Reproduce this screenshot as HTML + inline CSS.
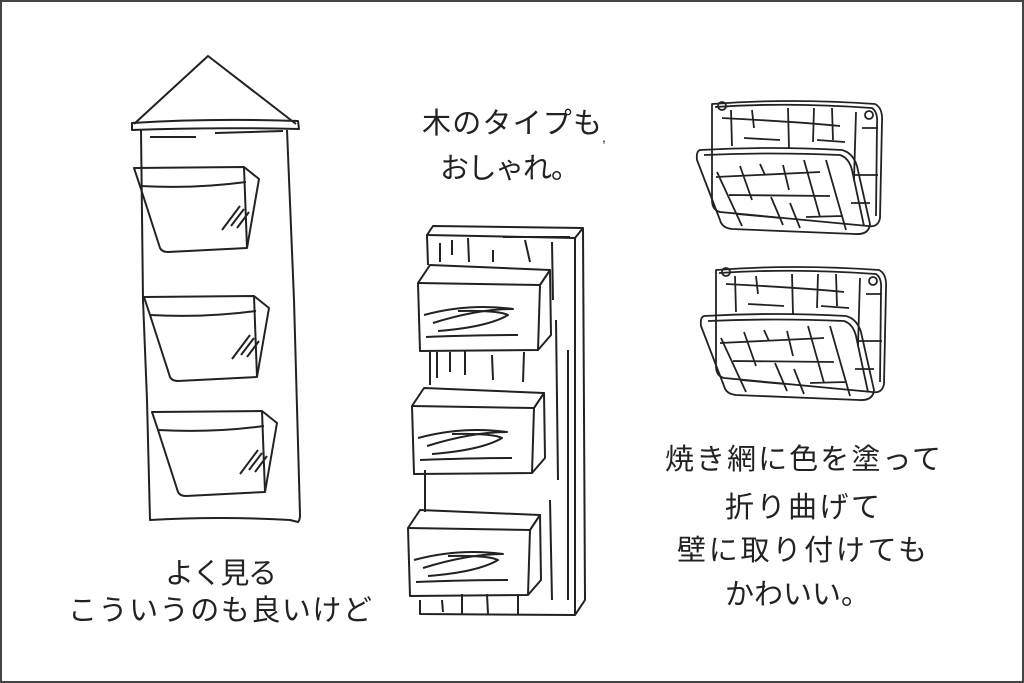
<!DOCTYPE html>
<html><head><meta charset="utf-8"><style>
html,body{margin:0;padding:0;background:#fff}
svg{display:block}
text{font-family:"Liberation Sans","Noto Sans CJK JP",sans-serif;font-size:29px;fill:#222;font-weight:400}
</style></head><body>
<svg width="1024" height="683" viewBox="0 0 1024 683" xmlns="http://www.w3.org/2000/svg">
<rect x="1" y="1" width="1022" height="681" fill="#fff" stroke="#444" stroke-width="2"/>
<defs>
<g id="pocket" fill="none" stroke="#222" stroke-width="2" stroke-linejoin="round">
<path d="M0,0 L110,-1 L125,11 L113,80 L34,84 Q28,84 26,80 L6,18 Z"/>
<path d="M110,-1 L113,80"/>
<path d="M6,18 Q60,21 112,14"/>
<path d="M88,62 L106,38 M97,58 L110,41 M103,60 L115,44"/>
</g>
<g id="box" fill="none" stroke="#222" stroke-width="2" stroke-linejoin="round">
<path d="M0,18 L12,0 L132,5 L122,20 L120,85 L2,86 Z"/>
<path d="M0,18 L122,20 L132,5 L133,70 L120,85"/>
<path d="M6,50 Q50,38 95,44 Q60,44 15,58 M40,46 Q80,45 90,50 Q70,62 20,66 M8,72 Q60,70 100,70"/>
</g>
<g id="grill" fill="none" stroke="#222" stroke-width="1.8" stroke-linejoin="round">
<path d="M712,104 Q790,98 875,104 Q883,108 882,122 L880,218 Q878,228 868,226 L720,212 Q712,210 712,200 Z"/>
<path d="M715,107 Q790,102 872,108 Q878,112 877,124 L876,216"/>
<circle cx="722" cy="106" r="4"/><circle cx="869" cy="115" r="4"/>
<path d="M722,118 Q800,122 840,126 M731,110 L732,146 M752,110 L754,128 M788,108 L789,148 M814,108 L813,142 M832,108 L833,140 M856,112 L854,180 M744,138 L780,140 M817,140 L845,142 M862,128 L878,128 M855,175 L878,175 M851,203 L870,203"/>
<path d="M700,150 Q770,146 842,150 Q853,153 857,166 L870,224 Q869,235 855,234 L732,229 Q722,228 720,220 L697,160 Q696,151 700,150 Z"/>
<path d="M704,155 Q770,152 840,155 Q849,158 852,170 L864,226"/>
<path d="M717,172 L742,226 M740,166 L752,200 M760,164 L765,175 M783,165 L789,190 M804,160 L820,217 M826,160 L846,230 M716,177 L820,172 M729,195 L830,196 M737,214 L781,218 M806,217 L842,216 M771,197 L783,225 M790,203 L800,228"/>
</g>
</defs>

<g fill="none" stroke="#222" stroke-width="2" stroke-linejoin="round">
<path d="M134,124 L208,56 L296,124"/>
<path d="M132,123 Q210,118 298,121 L299,129 Q210,127 132,130 Z"/>
<path d="M150,137 L196,137 M215,133 L283,131"/>
<path d="M141,130 L143,300 L147,400 L150,520 Q220,516 290,520 L298,522 Q300,520 300,515 L294,300 L287,130"/>
</g>
<use href="#pocket" x="134" y="168"/>
<use href="#pocket" x="144" y="297"/>
<use href="#pocket" x="152" y="412"/>

<g fill="none" stroke="#222" stroke-width="2" stroke-linejoin="round">
<path d="M427,235 L433,226 L583,228 L575,238 Z"/>
<path d="M427,235 L428,265 M575,238 L575,615 L420,614 L420,600 M583,228 L585,600 L575,615"/>
<path d="M440,243 L440,262 M452,240 L452,255 M468,238 L469,262 M493,250 L493,262 M525,240 L530,262 M552,242 L553,300 M503,237 L570,237 M437,352 L437,378 M450,352 L450,372 M465,350 L465,375 M492,355 L493,380 M524,352 L523,382 M556,320 L558,480 M568,350 L568,600 M550,500 L552,600 M442,600 L443,612 M462,594 L462,614 M487,594 L488,614 M518,594 L518,614 M430,352 L430,385 M425,470 L425,512"/>
</g>
<use href="#box" x="418" y="265"/>
<use href="#box" x="412" y="388"/>
<use href="#box" x="408" y="510"/>

<use href="#grill"/>
<use href="#grill" x="4" y="166"/>

<text x="165" y="583" textLength="112">よく見る</text>
<text x="68" y="620" textLength="304">こういうのも良いけど</text>
<text x="422" y="133" textLength="180">木のタイプも</text>
<text x="602" y="142" style="font-size:14px">,</text>
<text x="440" y="178" textLength="140">おしゃれ。</text>
<text x="665" y="469" textLength="276">焼き網に色を塗って</text>
<text x="725" y="517" textLength="155">折り曲げて</text>
<text x="677" y="560" textLength="250">壁に取り付けても</text>
<text x="725" y="604" textLength="145">かわいい。</text>
</svg>
</body></html>
